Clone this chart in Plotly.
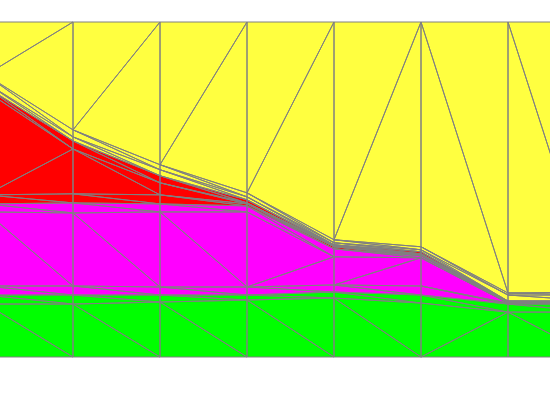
import numpy as np
import plotly.graph_objects as go

# column positions
columns = [0, 1, 2, 3, 4, 5, 6, 7]

# stacked layer thickness (percent), bottom to top
green_a = [15.8, 15.8, 16.4, 17.0, 17.6, 16.1, 13.4, 13.4]
green_b = [2.7, 2.7, 2.1, 1.5, 1.8, 2.4, 2.4, 2.4]
magenta_a = [2.7, 2.7, 2.4, 2.4, 2.1, 2.7, 0.3, 0.3]
magenta_b = [22.1, 21.8, 22.4, 22.4, 8.4, 8.4, 0.15, 0.15]
magenta_c = [2.4, 3.0, 2.4, 1.8, 2.4, 0.6, 0.15, 0.15]
red_a = [2.7, 2.7, 2.7, 0.6, 0.6, 0.3, 0.06, 0.06]
red_b = [31.0, 13.4, 3.6, 0.3, 0.3, 0.3, 0.09, 0.09]
red_c = [1.2, 2.4, 2.1, 0.9, 0.3, 0.6, 0.15, 0.15]
yellow_a = [1.2, 1.2, 1.8, 0.9, 0.6, 0.6, 1.8, 1.8]
yellow_b = [2.4, 2.1, 1.5, 1.2, 0.9, 0.9, 0.6, 0.9]
yellow_c = [15.8, 32.2, 42.6, 51.0, 65.0, 67.1, 80.9, 80.6]

layers = [
    (green_a, "#00ff00", "dddddud"),
    (green_b, "#00ff00", "ddddddd"),
    (magenta_a, "#ff00ff", "ddddddd"),
    (magenta_b, "#ff00ff", "ddduudd"),
    (magenta_c, "#ff00ff", "ddddddd"),
    (red_a, "#ff0000", "ddddddd"),
    (red_b, "#ff0000", "udddddd"),
    (red_c, "#ff0000", "ddddddd"),
    (yellow_a, "#ffff40", "ddddddd"),
    (yellow_b, "#ffff40", "ddddddd"),
    (yellow_c, "#ffff40", "uuuuudd"),
]


def triangles(x, lo, hi, diag):
    """Split each band segment into two triangles."""
    tris = []
    for i in range(len(x) - 1):
        a, b = x[i], x[i + 1]
        if diag[i] == "u":
            tris.append([(a, lo[i]), (a, hi[i]), (b, hi[i + 1])])
            tris.append([(a, lo[i]), (b, hi[i + 1]), (b, lo[i + 1])])
        else:
            tris.append([(a, hi[i]), (b, hi[i + 1]), (b, lo[i + 1])])
            tris.append([(a, hi[i]), (b, lo[i + 1]), (a, lo[i])])
    return tris


fig = go.Figure()
base = np.zeros(len(columns))
edge_x, edge_y = [], []
for vals, color, diag in layers:
    top = base + np.array(vals)
    fx, fy = [], []
    for tri in triangles(columns, base, top, diag):
        pts = tri + [tri[0]]
        fx += [p[0] for p in pts] + [None]
        fy += [p[1] for p in pts] + [None]
    edge_x += fx
    edge_y += fy
    fig.add_trace(go.Scatter(x=fx, y=fy, mode="lines", fill="toself",
                             fillcolor=color, line=dict(width=0, color=color),
                             hoverinfo="skip", showlegend=False))
    base = top

fig.add_trace(go.Scatter(x=edge_x, y=edge_y, mode="lines",
                         line=dict(color="#808080", width=1),
                         hoverinfo="skip", showlegend=False))

fig.update_xaxes(range=[14 / 87, 564 / 87], visible=False)
fig.update_yaxes(range=[-12.84, 106.57], visible=False)
fig.update_layout(
    width=550, height=400,
    margin=dict(l=0, r=0, t=0, b=0),
    plot_bgcolor="white", paper_bgcolor="white",
)

# drop the default body margin so the figure sits at the window corner
fig.write_html("out.html", config={"displayModeBar": False},
               post_script="document.body.style.margin='0';")
